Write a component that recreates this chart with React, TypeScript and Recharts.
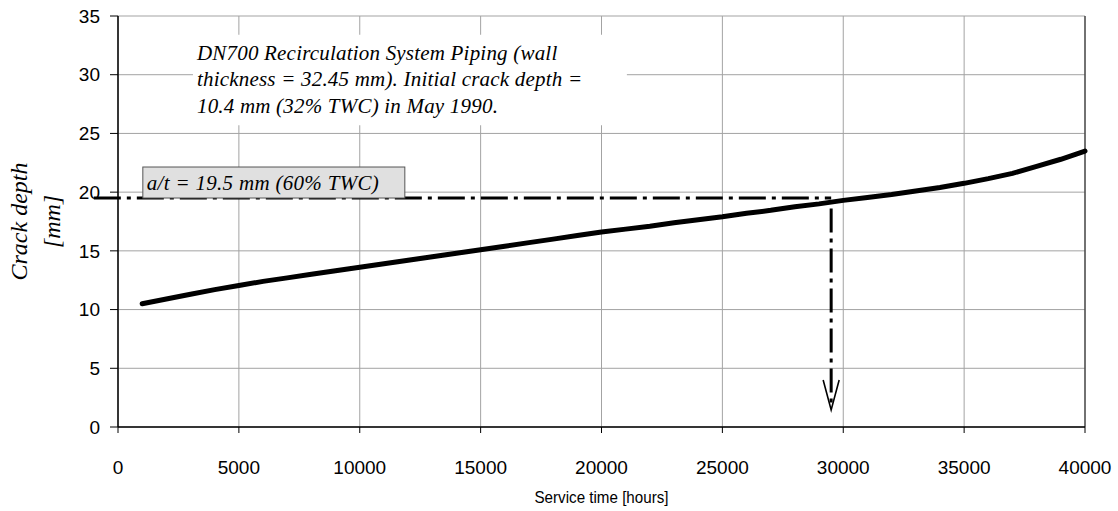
import React from "react";
import {
  LineChart,
  Line,
  XAxis,
  YAxis,
  CartesianGrid,
  ReferenceLine,
  ReferenceArea,
} from "recharts";

// service time in hours and predicted crack depth in mm
const hours = [
  1000, 2000, 3000, 4000, 5000, 6000, 7000, 8000, 9000, 10000,
  11000, 12000, 13000, 14000, 15000, 16000, 17000, 18000, 19000, 20000,
  21000, 22000, 23000, 24000, 25000, 26000, 27000, 28000, 29000, 30000,
  31000, 32000, 33000, 34000, 35000, 36000, 37000, 38000, 39000, 40000,
];
const crackDepth = [
  10.5, 10.9, 11.3, 11.7, 12.05, 12.4, 12.7, 13.0, 13.3, 13.6,
  13.9, 14.2, 14.5, 14.8, 15.1, 15.4, 15.7, 16.0, 16.3, 16.6,
  16.85, 17.1, 17.4, 17.65, 17.9, 18.2, 18.45, 18.75, 19.0, 19.3,
  19.55, 19.8, 20.1, 20.4, 20.75, 21.15, 21.6, 22.2, 22.8, 23.5,
];

const xTicks = [0, 5000, 10000, 15000, 20000, 25000, 30000, 35000, 40000];
const yTicks = [0, 5, 10, 15, 20, 25, 30, 35];

// allowable depth a/t and the time at which it is reached
const allowableDepth = 19.5;
const failureHours = 29500;

const noteLines = [
  "DN700 Recirculation System Piping (wall",
  "thickness = 32.45 mm). Initial crack depth =",
  "10.4 mm (32% TWC) in May 1990.",
];
const limitLabel = "a/t = 19.5 mm (60% TWC)";

const rows = hours.map((h, i) => ({ hours: h, depth: crackDepth[i] }));

const SANS = "'Liberation Sans', Arial, sans-serif";
const SERIF = "'Liberation Serif', 'Times New Roman', serif";

const NoteText = (props: any) => {
  const { x, y } = props.viewBox;
  return (
    <text fontFamily={SERIF} fontStyle="italic" fontSize={21} letterSpacing={0.2} fill="#000">
      {noteLines.map((t, i) => (
        <tspan key={i} x={x + 4} y={y + 25 + i * 26.7}>
          {t}
        </tspan>
      ))}
    </text>
  );
};

// dash-dot limit line with the boxed a/t label sitting on it
const LimitLine = (props: any) => {
  const { x1, y1, x2, y2 } = props;
  return (
    <g>
      <line
        x1={x1}
        y1={y1}
        x2={x2}
        y2={y2}
        stroke="#000"
        strokeWidth={3}
        strokeDasharray="27 6 4 6"
      />
      <rect
        x={x1 + 49}
        y={y1 - 31}
        width={262}
        height={31}
        fill="#e0e0e0"
        stroke="#555"
        strokeWidth={1}
      />
      <text
        x={x1 + 53}
        y={y1 - 8}
        fontFamily={SERIF}
        fontStyle="italic"
        fontSize={21}
        letterSpacing={0.3}
        fill="#000"
      >
        {limitLabel}
      </text>
    </g>
  );
};

const DropArrow = (props: any) => {
  const { x1, y1, x2, y2 } = props;
  return (
    <g>
      <line
        x1={x1}
        y1={y1}
        x2={x2}
        y2={y2 - 4}
        stroke="#000"
        strokeWidth={3}
        strokeDasharray="24 6 4 6"
      />
      <polyline
        points={`${x2 - 8},${y2 - 30} ${x2},${y2} ${x2 + 8},${y2 - 30}`}
        fill="none"
        stroke="#000"
        strokeWidth={1.6}
      />
    </g>
  );
};

const YTitle = (props: any) => {
  const { y, height } = props.viewBox;
  const cy = y + height / 2;
  return (
    <g fontFamily={SERIF} fontStyle="italic" fontSize={24} fill="#000">
      <text x={27} y={cy} textAnchor="middle" transform={`rotate(-90 27 ${cy})`}>
        Crack depth
      </text>
      <text x={60} y={cy} textAnchor="middle" transform={`rotate(-90 60 ${cy})`}>
        [mm]
      </text>
    </g>
  );
};

const XTitle = (props: any) => {
  const { x, y, width } = props.viewBox;
  return (
    <text
      x={x + width / 2}
      y={y + 76}
      textAnchor="middle"
      fontFamily={SANS}
      fontSize={17}
      textLength={134}
      lengthAdjust="spacingAndGlyphs"
      fill="#000"
    >
      Service time [hours]
    </text>
  );
};

export default function App() {
  return (
    <div style={{ position: "absolute", left: 0, top: 0, background: "#fff" }}>
      <LineChart
        width={1118}
        height={511}
        data={rows}
        margin={{ top: 16, right: 33, left: 0, bottom: 0 }}
      >
        <CartesianGrid stroke="#a3a3a3" strokeWidth={1} />
        <XAxis
          dataKey="hours"
          type="number"
          domain={[0, 40000]}
          ticks={xTicks}
          height={84}
          tickSize={6}
          tickMargin={28}
          axisLine={{ stroke: "#000", strokeWidth: 1.5 }}
          tickLine={{ stroke: "#000" }}
          tick={{ fill: "#000", fontSize: 19, fontFamily: SANS }}
          label={<XTitle />}
        />
        <YAxis
          type="number"
          domain={[0, 35]}
          ticks={yTicks}
          width={118}
          tickSize={8}
          tickMargin={10}
          axisLine={{ stroke: "#000", strokeWidth: 1.5 }}
          tickLine={{ stroke: "#000" }}
          tick={{ fill: "#000", fontSize: 19, fontFamily: SANS }}
          label={<YTitle />}
        />
        <ReferenceLine x={40000} stroke="#333" strokeWidth={1.2} />
        <ReferenceArea
          x1={3100}
          x2={21050}
          y1={25.7}
          y2={33.4}
          fill="#fff"
          fillOpacity={1}
          stroke="none"
          label={<NoteText />}
        />
        <ReferenceLine
          segment={[
            { x: -1000, y: allowableDepth },
            { x: failureHours, y: allowableDepth },
          ]}
          ifOverflow="visible"
          shape={LimitLine}
        />
        <ReferenceLine
          segment={[
            { x: failureHours, y: 18.6 },
            { x: failureHours, y: 1.45 },
          ]}
          ifOverflow="visible"
          shape={DropArrow}
        />
        <Line
          type="linear"
          dataKey="depth"
          stroke="#000"
          strokeWidth={5}
          strokeLinecap="round"
          dot={false}
          activeDot={false}
          isAnimationActive={false}
        />
      </LineChart>
    </div>
  );
}
